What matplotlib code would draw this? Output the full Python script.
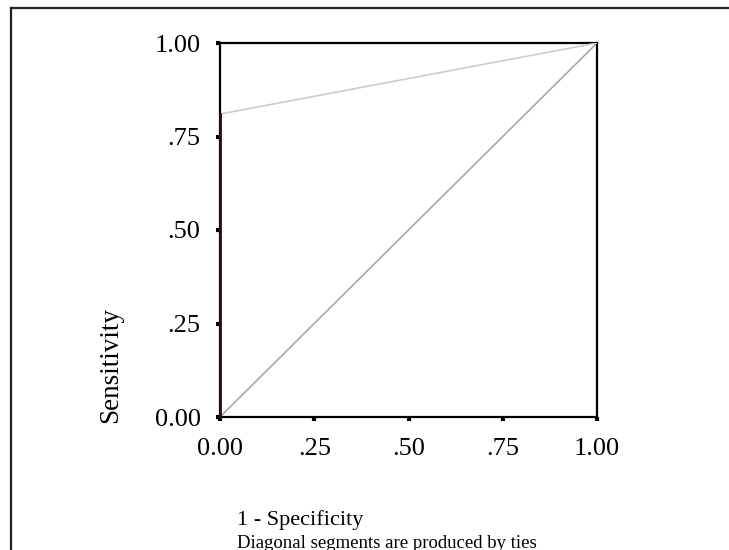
import matplotlib
matplotlib.use("Agg")
import matplotlib.pyplot as plt
from matplotlib.lines import Line2D

# ROC curve data
roc_fpr = [0.0, 0.0, 1.0]
roc_tpr = [0.0, 0.81, 1.0]
ref_x = [0.0, 1.0]
ref_y = [0.0, 1.0]
ticks = [0.0, 0.25, 0.5, 0.75, 1.0]
tick_labels = ["0.00", ".25", ".50", ".75", "1.00"]

plt.rcParams['font.family'] = ['Liberation Serif', 'DejaVu Serif']

W, H = 729, 550
fig = plt.figure(figsize=(W/100, H/100), dpi=100)

# outer frame (top and left only visible)
fig.add_artist(Line2D([11.5/W, 1.0], [1-7.5/H, 1-7.5/H], transform=fig.transFigure, color='#222222', lw=1.6))
fig.add_artist(Line2D([11.5/W, 11.5/W], [0.0, 1-7.5/H], transform=fig.transFigure, color='#222222', lw=1.6))

ax = fig.add_axes([220/W, 1-417/H, (597-220)/W, (417-43)/H])
ax.set_xlim(0, 1)
ax.set_ylim(0, 1)

ax.plot(ref_x, ref_y, color='#a8a8a8', lw=1.2, zorder=2)
ax.plot(roc_fpr[1:], roc_tpr[1:], color='#cccccc', lw=1.2, zorder=3)
ax.plot(roc_fpr[:2], roc_tpr[:2], color='#3a0808', lw=2.0, zorder=4, clip_on=False)

for s in ax.spines.values():
    s.set_linewidth(1.6)
    s.set_color('black')

ax.set_xticks(ticks)
ax.set_xticklabels(tick_labels)
ax.set_yticks(ticks)
ax.set_yticklabels(tick_labels)
ax.tick_params(direction='out', length=3, width=3, color='black', labelsize=19)
ax.tick_params(axis='x', pad=12)
ax.tick_params(axis='y', pad=11)

fig.text(111/W, 1-365/H, "Sensitivity", fontsize=19.5, rotation=90, va='center', ha='center')

fig.text(237/W, 1-520/H, "1 - Specificity", fontsize=16, va='center', ha='left')
fig.text(237/W, 1-543/H, "Diagonal segments are produced by ties", fontsize=13.5, va='center', ha='left')

fig.savefig("out.png", dpi=100)
